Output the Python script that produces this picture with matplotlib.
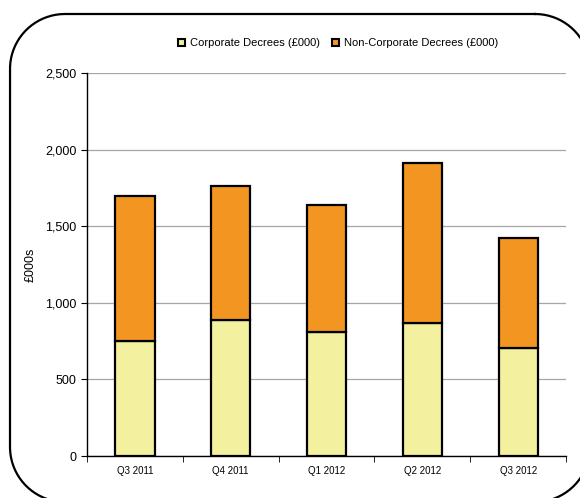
import numpy as np
import matplotlib.pyplot as plt
from matplotlib.ticker import FuncFormatter

quarters = ['Q3 2011', 'Q4 2011', 'Q1 2012', 'Q2 2012', 'Q3 2012']
corporate = [750, 885, 810, 870, 705]
non_corporate = [950, 875, 830, 1040, 720]

plt.rcParams['font.family'] = ['Liberation Sans', 'DejaVu Sans']

fig = plt.figure(figsize=(5.8, 4.98), dpi=100)
ax = fig.add_axes([0.15, 0.0843, 0.826, 0.769])

x = np.arange(len(quarters))
ax.bar(x, corporate, width=0.41, color='#f3f19f', edgecolor='black', linewidth=1.6,
       label='Corporate Decrees (£000)', zorder=3)
ax.bar(x, non_corporate, width=0.41, bottom=corporate, color='#f39621',
       edgecolor='black', linewidth=1.6, label='Non-Corporate Decrees (£000)', zorder=3)

ax.set_xlim(-0.5, len(quarters) - 0.5)
ax.set_ylim(0, 2500)
ax.set_yticks(range(0, 2501, 500))
ax.yaxis.set_major_formatter(FuncFormatter(lambda v, p: f'{int(v):,}'))
ax.grid(axis='y', color='#a6a6a6', linewidth=0.9, zorder=0)
ax.set_xticks(x)
ax.set_xticklabels(quarters, fontsize=7)
ax.set_xticks(np.arange(-0.5, len(quarters)), minor=True)
ax.tick_params(axis='x', which='major', length=0, pad=7)
ax.tick_params(axis='x', which='minor', length=4, color='black')
ax.tick_params(axis='y', labelsize=9, length=4, direction='out')
ax.set_ylabel('£000s', fontsize=9, labelpad=6)

for s in ['top', 'right']:
    ax.spines[s].set_visible(False)
for s in ['left', 'bottom']:
    ax.spines[s].set_color('black')
    ax.spines[s].set_linewidth(1.0)

leg = fig.legend(loc='center', bbox_to_anchor=(0.583, 0.913), ncol=2, frameon=False,
                 fontsize=8, handlelength=0.65, handleheight=0.65, handletextpad=0.5,
                 columnspacing=1.0)
for h in leg.legend_handles:
    h.set_linewidth(1.5)

# rounded chart border drawn in a pixel-space overlay, running off right/bottom
frame = fig.add_axes([0, 0, 1, 1], zorder=-1)
frame.set_xlim(0, 580)
frame.set_ylim(498, 0)
frame.axis('off')
x0, x1, y0, y1, r = 10, 590, 14, 502, 55
corners = [(x1 - r, y0 + r, -90, 0), (x1 - r, y1 - r, 0, 90),
           (x0 + r, y1 - r, 90, 180), (x0 + r, y0 + r, 180, 270)]
px, py = [], []
for cx, cy, a0, a1 in corners:
    t = np.radians(np.linspace(a0, a1, 40))
    px.extend(cx + r * np.cos(t))
    py.extend(cy + r * np.sin(t))
px.append(px[0])
py.append(py[0])
frame.plot(px, py, color='black', linewidth=1.6, clip_on=False)

fig.savefig('out.png', dpi=100)
